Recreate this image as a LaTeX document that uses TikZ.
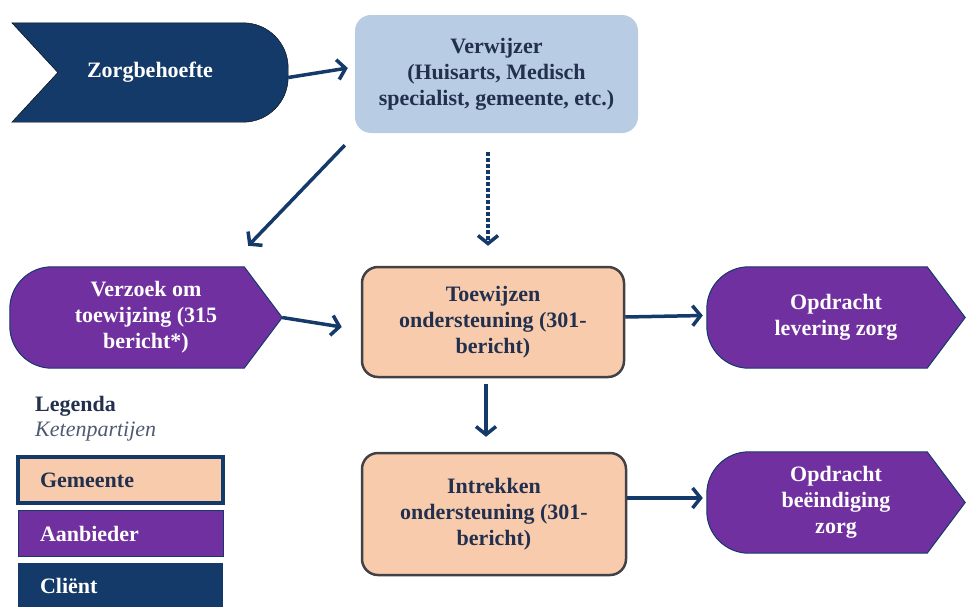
\documentclass[tikz,border=0pt]{standalone}
\usepackage{fontspec}
\setmainfont{Liberation Serif}
\usepackage{tikz}
\usetikzlibrary{arrows.meta, backgrounds}

\definecolor{clientblauw}{RGB}{20,58,106}
\definecolor{aanbiederpaars}{RGB}{112,48,160}
\definecolor{gemeenteoranje}{RGB}{248,203,173}
\definecolor{verwijzerblauw}{RGB}{184,204,228}
\definecolor{randgrijs}{RGB}{66,66,70}
\definecolor{tekstblauw}{RGB}{34,48,78}

\begin{document}
\begin{tikzpicture}[x=1pt, y=-1pt,
    basis/.style={inner sep=0pt, align=center, font=\fontsize{22}{26}\selectfont\bfseries},
    gemeente/.style={basis, draw=randgrijs, line width=2.5pt, fill=gemeenteoranje, rounded corners=16pt, text=tekstblauw},
    verwijzer/.style={basis, fill=verwijzerblauw, rounded corners=16pt, text=tekstblauw},
    aanbieder/.style={basis, text=white},
    client/.style={basis, text=white},
    aanbiedervorm/.style={fill=aanbiederpaars, draw=clientblauw, line width=1pt},
    clientvorm/.style={fill=clientblauw},
    legendavak/.style={basis, align=left, minimum height=46pt, text width=161pt, inner xsep=22pt},
    pijl/.style={draw=clientblauw, line width=3.5pt, -{Straight Barb[length=8pt,width=20pt]}}]
    \def\punt{38pt}
    \useasboundingbox (0,0) rectangle (966,606);
    \node[client, minimum width=276pt, minimum height=99pt] (zorg) at (150,72.5) {Zorgbehoefte};
    \node[verwijzer, minimum width=283pt, minimum height=118pt] (verwijzer) at (496.5,74) {Verwijzer\\(Huisarts, Medisch\\specialist, gemeente, etc.)};
    \node[aanbieder, minimum width=272pt, minimum height=101pt] (verzoek) at (146,317.5) {Verzoek om\\toewijzing (315\\bericht*)};
    \node[gemeente, minimum width=262pt, minimum height=110pt] (toewijzen) at (493,322) {Toewijzen\\ondersteuning (301-\\bericht)};
    \node[aanbieder, minimum width=258pt, minimum height=101pt] (levering) at (836,317.5) {Opdracht\\levering zorg};
    \node[gemeente, minimum width=264pt, minimum height=122pt] (intrekken) at (494,514) {Intrekken\\ondersteuning (301-\\bericht)};
    \node[aanbieder, minimum width=258pt, minimum height=101pt] (beeindiging) at (836,502.5) {Opdracht\\beëindiging\\zorg};
    \begin{scope}[on background layer]
    \draw[clientvorm] ([xshift=46pt]zorg.west) -- (zorg.north west) [rounded corners=45pt] -- (zorg.north east) -- (zorg.south east) [sharp corners] -- (zorg.south west) -- cycle;
    \foreach \n in {verzoek, levering, beeindiging}
    {
    \draw[aanbiedervorm] (\n.east) -- ([xshift=-\punt]\n.north east) [rounded corners=42pt] -- (\n.north west) -- (\n.south west) [sharp corners] -- ([xshift=-\punt]\n.south east) -- cycle;
    }
    \end{scope}
    \node[basis, anchor=west, text=tekstblauw] (legenda) at (35,406) {Legenda};
    \node[basis, anchor=west, font=\fontsize{22}{26}\selectfont\itshape, text=tekstblauw!80] (ketenpartijen) at (35,432) {Ketenpartijen};
    \node[legendavak, draw=clientblauw, line width=3.5pt, fill=gemeenteoranje, text=tekstblauw] (lgemeente) at (120.5,480) {Gemeente};
    \node[legendavak, draw=clientblauw, line width=1pt, fill=aanbiederpaars, text=white] (laanbieder) at (120.5,533.5) {Aanbieder};
    \node[legendavak, fill=clientblauw, text=white] (lclient) at (120.5,586) {Cliënt};
    \draw[pijl] ([yshift=-5pt]zorg.east) -- ([xshift=-7pt,yshift=6pt]verwijzer.west);
    \draw[pijl] ([xshift=-10pt,yshift=-12pt]verwijzer.south west) -- ([xshift=-34pt,yshift=21pt]verzoek.north east);
    \draw[pijl, dash pattern=on 3.5pt off 2.5pt] ([xshift=-8.5pt,yshift=-19pt]verwijzer.south) -- ([xshift=-5pt,yshift=20pt]toewijzen.north);
    \draw[pijl] (verzoek.east) -- ([xshift=-19pt,yshift=-5pt]toewijzen.west);
    \draw[pijl] ([yshift=5pt]toewijzen.east) -- ([xshift=-4pt,yshift=2pt]levering.west);
    \draw[pijl] ([xshift=-7pt,yshift=-6pt]toewijzen.south) -- ([xshift=-8pt,yshift=15pt]intrekken.north);
    \draw[pijl] ([yshift=16pt]intrekken.east) -- ([xshift=-4pt,yshift=4.5pt]beeindiging.west);
\end{tikzpicture}
\end{document}
